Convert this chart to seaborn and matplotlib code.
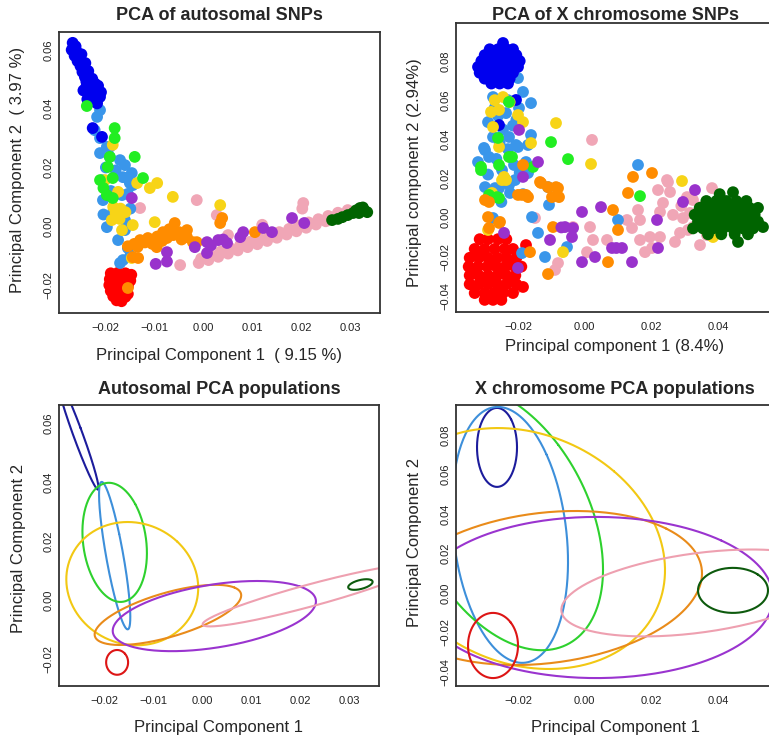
import numpy as np
import pandas as pd
import matplotlib
matplotlib.use("Agg")
import matplotlib.pyplot as plt
import seaborn as sns

# colours of the nine populations (points) and of their ellipses
point_colours = {"pink": "#f0a6b6", "red": "#ff0000", "lightblue": "#3a96ea", "blue": "#0000ee",
                 "gold": "#f7d417", "green": "#22ee22", "orange": "#ff8c00", "purple": "#9932cc",
                 "darkgreen": "#006400"}
ellipse_colours = {"pink": "#eea0b0", "red": "#dd1515", "lightblue": "#3d8fda", "blue": "#1c1c9c",
                   "gold": "#f2c813", "green": "#2ed12e", "orange": "#e98b1a", "purple": "#9a34cf",
                   "darkgreen": "#0d5a0d"}
draw_order = ["pink", "red", "lightblue", "blue", "gold", "green", "orange", "purple", "darkgreen"]

# ---- autosomal PCA, points (PC1, PC2)
auto_pink = [(-0.0010, -0.0125), (-0.0005, -0.0110), (0.0010, -0.0115), (0.0015, -0.0098), (0.0030, -0.0104),
             (0.0035, -0.0086), (0.0050, -0.0093), (0.0055, -0.0075), (0.0070, -0.0082), (0.0075, -0.0064),
             (0.0090, -0.0071), (0.0095, -0.0053), (0.0110, -0.0061), (0.0115, -0.0042), (0.0130, -0.0050),
             (0.0135, -0.0031), (0.0150, -0.0039), (0.0155, -0.0020), (0.0170, -0.0028), (0.0175, -0.0009),
             (0.0190, -0.0017), (0.0195, 0.0002), (0.0210, -0.0005), (0.0215, 0.0013), (0.0230, 0.0006),
             (0.0235, 0.0024), (0.0250, 0.0017), (0.0255, 0.0035), (0.0270, 0.0030), (0.0275, 0.0046),
             (0.0290, 0.0042), (0.0295, 0.0055), (-0.0130, 0.0062), (-0.0014, 0.0089), (-0.0048, -0.0132),
             (0.0027, 0.0038), (0.0204, 0.0079), (0.0202, 0.0060), (0.0120, 0.0005), (0.0050, -0.0030)]
auto_red = [(-0.0190, -0.0160), (-0.0175, -0.0158), (-0.0160, -0.0160), (-0.0148, -0.0165), (-0.0192, -0.0180),
            (-0.0178, -0.0178), (-0.0163, -0.0180), (-0.0150, -0.0185), (-0.0193, -0.0200), (-0.0180, -0.0198),
            (-0.0166, -0.0200), (-0.0155, -0.0205), (-0.0190, -0.0220), (-0.0177, -0.0220), (-0.0163, -0.0222),
            (-0.0155, -0.0230), (-0.0185, -0.0238), (-0.0172, -0.0240), (-0.0160, -0.0240), (-0.0178, -0.0252),
            (-0.0168, -0.0255)]
auto_lightblue = [(-0.0218, 0.0372), (-0.0212, 0.0395), (-0.0223, 0.0327), (-0.0212, 0.0300), (-0.0198, 0.0270),
                  (-0.0192, 0.0236), (-0.0212, 0.0249), (-0.0192, 0.0270), (-0.0171, 0.0225), (-0.0161, 0.0208),
                  (-0.0147, 0.0181), (-0.0145, 0.0140), (-0.0208, 0.0157), (-0.0165, 0.0167), (-0.0151, 0.0147),
                  (-0.0180, 0.0190), (-0.0200, 0.0200), (-0.0167, 0.0106), (-0.0206, 0.0089), (-0.0190, 0.0120),
                  (-0.0155, 0.0110), (-0.0198, -0.0003), (-0.0161, 0.0021), (-0.0161, -0.0013), (-0.0175, -0.0047),
                  (-0.0155, -0.0074), (-0.0165, -0.0115), (-0.0150, -0.0100), (-0.0185, 0.0050), (-0.0150, 0.0060),
                  (-0.0205, 0.0040), (-0.0171, -0.0125)]
auto_blue = [(-0.0268, 0.0624), (-0.0262, 0.0612), (-0.0270, 0.0600), (-0.0260, 0.0595), (-0.0264, 0.0580),
             (-0.0255, 0.0578), (-0.0258, 0.0562), (-0.0250, 0.0560), (-0.0252, 0.0545), (-0.0245, 0.0540),
             (-0.0248, 0.0525), (-0.0240, 0.0522), (-0.0243, 0.0508), (-0.0235, 0.0505), (-0.0240, 0.0492),
             (-0.0230, 0.0490), (-0.0222, 0.0485), (-0.0240, 0.0475), (-0.0230, 0.0470), (-0.0222, 0.0468),
             (-0.0232, 0.0458), (-0.0220, 0.0455), (-0.0230, 0.0445), (-0.0222, 0.0440), (-0.0212, 0.0440),
             (-0.0225, 0.0425), (-0.0218, 0.0418), (-0.0227, 0.0334), (-0.0208, 0.0304), (-0.0250, 0.0585),
             (-0.0242, 0.0555), (-0.0236, 0.0528), (-0.0228, 0.0502), (-0.0216, 0.0478), (-0.0210, 0.0456),
             (-0.0246, 0.0462), (-0.0238, 0.0432)]
auto_gold = [(-0.0186, 0.0277), (-0.0202, 0.0157), (-0.0136, 0.0147), (-0.0110, 0.0130), (-0.0095, 0.0147),
             (-0.0063, 0.0100), (0.0034, 0.0072), (-0.0175, 0.0117), (-0.0185, 0.0066), (-0.0170, 0.0060),
             (-0.0160, 0.0048), (-0.0180, 0.0045), (-0.0188, 0.0021), (-0.0172, 0.0025), (-0.0167, -0.0013),
             (-0.0145, 0.0004), (-0.0100, 0.0014), (-0.0147, -0.0108)]
auto_green = [(-0.0239, 0.0409), (-0.0182, 0.0334), (-0.0182, 0.0300), (-0.0141, 0.0236), (-0.0124, 0.0164),
              (-0.0192, 0.0236), (-0.0196, 0.0202), (-0.0212, 0.0157), (-0.0186, 0.0164), (-0.0198, 0.0106),
              (-0.0186, 0.0096), (-0.0205, 0.0130)]
auto_orange = [(-0.0155, -0.0068), (-0.0142, -0.0060), (-0.0130, -0.0047), (-0.0135, -0.0070), (-0.0120, -0.0055),
               (-0.0114, -0.0040), (-0.0105, -0.0060), (-0.0096, -0.0071), (-0.0095, -0.0035), (-0.0085, -0.0050),
               (-0.0083, -0.0020), (-0.0075, -0.0040), (-0.0070, -0.0010), (-0.0062, -0.0030), (-0.0059, 0.0011),
               (-0.0050, -0.0020), (-0.0045, -0.0045), (-0.0034, -0.0037), (-0.0034, -0.0013), (-0.0022, -0.0054),
               (-0.0014, -0.0054), (0.0034, 0.0011), (0.0038, 0.0028), (0.0105, -0.0020), (-0.0134, -0.0108),
               (-0.0145, -0.0105), (-0.0155, -0.0210)]
auto_purple = [(-0.0075, -0.0088), (-0.0075, -0.0120), (-0.0098, -0.0128), (-0.0147, 0.0096), (-0.0018, -0.0071),
               (0.0007, -0.0054), (0.0007, -0.0091), (0.0030, -0.0047), (0.0048, -0.0057), (0.0075, -0.0037),
               (0.0081, -0.0020), (0.0122, -0.0006), (0.0140, -0.0020), (0.0181, 0.0028), (0.0206, 0.0011),
               (0.0015, -0.0065), (0.0040, -0.0045)]
auto_darkgreen = [(0.0263, 0.0021), (0.0275, 0.0025), (0.0284, 0.0031), (0.0295, 0.0038), (0.0306, 0.0045),
                  (0.0312, 0.0054), (0.0320, 0.0062), (0.0328, 0.0056), (0.0335, 0.0048), (0.0318, 0.0045),
                  (0.0326, 0.0064)]

# ---- X chromosome PCA points
x_pink = [(0.0022, 0.0397), (0.0247, 0.0192), (0.0256, 0.0131), (0.0160, 0.0039), (0.0235, 0.0075),
          (0.0226, 0.0029), (0.0166, -0.0012), (0.0265, 0.0014), (0.0295, -0.0002), (0.0286, -0.0078),
          (0.0226, -0.0099), (0.0142, -0.0053), (0.0196, -0.0099), (0.0166, -0.0114), (0.0202, -0.0155),
          (0.0181, -0.0176), (0.0271, -0.0124), (0.0016, -0.0048), (0.0025, -0.0114), (0.0007, -0.0176),
          (-0.0035, -0.0048), (0.0346, -0.0140), (0.0325, -0.0048), (0.0316, 0.0024), (0.0382, 0.0151),
          (0.0325, 0.0090), (0.0346, 0.0054), (0.0367, -0.0089), (-0.0149, -0.0002), (-0.0080, -0.0232),
          (-0.0089, -0.0267), (0.0220, 0.0141), (0.0250, 0.0182), (0.0310, -0.0063), (-0.0206, -0.0360),
          (0.0067, -0.0114), (0.0127, -0.0012), (0.0307, 0.0105), (0.0385, -0.0048), (0.0290, 0.0060)]
x_red = [(-0.0315, -0.0110), (-0.0290, -0.0110), (-0.0260, -0.0110), (-0.0235, -0.0110),
         (-0.0330, -0.0160), (-0.0300, -0.0160), (-0.0270, -0.0160), (-0.0240, -0.0160), (-0.0215, -0.0160),
         (-0.0345, -0.0205), (-0.0318, -0.0205), (-0.0290, -0.0205), (-0.0262, -0.0205), (-0.0235, -0.0205),
         (-0.0205, -0.0205), (-0.0348, -0.0250), (-0.0320, -0.0250), (-0.0292, -0.0250), (-0.0265, -0.0250),
         (-0.0238, -0.0250), (-0.0210, -0.0250), (-0.0190, -0.0250), (-0.0345, -0.0295), (-0.0318, -0.0295),
         (-0.0290, -0.0295), (-0.0262, -0.0295), (-0.0235, -0.0295), (-0.0208, -0.0295), (-0.0345, -0.0340),
         (-0.0318, -0.0340), (-0.0290, -0.0340), (-0.0262, -0.0340), (-0.0235, -0.0340), (-0.0205, -0.0340),
         (-0.0330, -0.0385), (-0.0300, -0.0385), (-0.0272, -0.0385), (-0.0245, -0.0385), (-0.0215, -0.0385),
         (-0.0300, -0.0420), (-0.0275, -0.0420), (-0.0250, -0.0420), (-0.0176, -0.0140), (-0.0185, -0.0354),
         (-0.0304, -0.0182), (-0.0276, -0.0228), (-0.0250, -0.0272), (-0.0304, -0.0318), (-0.0250, -0.0362),
         (-0.0332, -0.0272), (-0.0222, -0.0228), (-0.0276, -0.0318), (-0.0222, -0.0318)]
x_lightblue = [(-0.0200, 0.0713), (-0.0185, 0.0642), (-0.0161, 0.0585), (-0.0275, 0.0616), (-0.0290, 0.0488),
               (-0.0236, 0.0534), (-0.0197, 0.0560), (-0.0275, 0.0412), (-0.0227, 0.0412), (-0.0161, 0.0422),
               (-0.0302, 0.0356), (-0.0206, 0.0371), (-0.0170, 0.0371), (-0.0320, 0.0284), (-0.0287, 0.0310),
               (-0.0212, 0.0269), (-0.0176, 0.0284), (-0.0299, 0.0345), (-0.0200, 0.0361), (-0.0224, 0.0310),
               (-0.0248, 0.0243), (-0.0269, 0.0151), (-0.0224, 0.0126), (-0.0299, 0.0156), (-0.0170, 0.0228),
               (-0.0209, 0.0192), (-0.0158, 0.0003), (-0.0140, -0.0078), (-0.0053, -0.0150), (-0.0119, -0.0201),
               (-0.0188, -0.0181), (-0.0110, 0.0156), (0.0100, -0.0012), (0.0160, 0.0269), (-0.0257, 0.0151),
               (-0.0227, 0.0167), (-0.0107, 0.0065), (-0.0275, -0.0002), (-0.0260, 0.0520), (-0.0245, 0.0450),
               (-0.0255, 0.0380), (-0.0230, 0.0350), (-0.0265, 0.0300), (-0.0195, 0.0230), (-0.0240, 0.0200),
               (-0.0185, 0.0120), (-0.0250, 0.0080), (-0.0290, 0.0220), (-0.0215, 0.0470), (-0.0270, 0.0560),
               (-0.0230, 0.0600), (-0.0205, 0.0500)]
x_blue = [(-0.0245, 0.0892), (-0.0285, 0.0860), (-0.0260, 0.0860), (-0.0235, 0.0860), (-0.0215, 0.0860),
          (-0.0300, 0.0830), (-0.0275, 0.0830), (-0.0250, 0.0830), (-0.0225, 0.0830), (-0.0205, 0.0830),
          (-0.0310, 0.0800), (-0.0285, 0.0800), (-0.0260, 0.0800), (-0.0235, 0.0800), (-0.0210, 0.0800),
          (-0.0195, 0.0800), (-0.0320, 0.0770), (-0.0295, 0.0770), (-0.0270, 0.0770), (-0.0245, 0.0770),
          (-0.0220, 0.0770), (-0.0200, 0.0770), (-0.0315, 0.0740), (-0.0290, 0.0740), (-0.0265, 0.0740),
          (-0.0240, 0.0740), (-0.0215, 0.0740), (-0.0300, 0.0710), (-0.0275, 0.0710), (-0.0250, 0.0710),
          (-0.0225, 0.0710), (-0.0280, 0.0685), (-0.0255, 0.0685), (-0.0230, 0.0685), (-0.0206, 0.0601),
          (-0.0257, 0.0473)]
x_gold = [(-0.0245, 0.0616), (-0.0281, 0.0540), (-0.0257, 0.0550), (-0.0200, 0.0524), (-0.0185, 0.0488),
          (-0.0086, 0.0483), (-0.0275, 0.0463), (-0.0257, 0.0361), (-0.0161, 0.0381), (-0.0242, 0.0208),
          (0.0019, 0.0274), (0.0292, 0.0187), (-0.0278, 0.0126), (-0.0248, 0.0192), (0.0385, -0.0099),
          (-0.0290, -0.0063), (-0.0236, 0.0192), (-0.0065, -0.0176), (-0.0270, 0.0600), (-0.0225, 0.0590)]
x_green = [(-0.0227, 0.0591), (-0.0260, 0.0407), (-0.0101, 0.0386), (-0.0227, 0.0310), (-0.0257, 0.0269),
           (-0.0311, 0.0259), (-0.0155, 0.0259), (-0.0050, 0.0299), (0.0166, 0.0110), (-0.0263, 0.0105),
           (-0.0218, 0.0310), (-0.0287, 0.0116), (-0.0257, 0.0100), (-0.0311, 0.0243)]
x_orange = [(-0.0185, 0.0269), (-0.0134, 0.0182), (-0.0110, 0.0156), (-0.0080, 0.0151), (-0.0098, 0.0105),
            (-0.0188, 0.0116), (-0.0170, 0.0105), (-0.0299, 0.0090), (-0.0254, -0.0022), (-0.0095, -0.0048),
            (0.0085, 0.0039), (0.0100, -0.0063), (0.0130, 0.0126), (0.0145, 0.0208), (0.0202, 0.0228),
            (0.0070, -0.0227), (-0.0110, -0.0288), (-0.0164, -0.0176), (-0.0290, 0.0003), (-0.0257, -0.0027),
            (-0.0287, -0.0053), (-0.0131, 0.0177), (-0.0086, 0.0156), (-0.0077, 0.0105), (-0.0200, 0.0116),
            (-0.0176, 0.0116), (-0.0287, 0.0080), (0.0362, -0.0022)]
x_purple = [(-0.0197, 0.0448), (-0.0140, 0.0284), (-0.0185, 0.0208), (-0.0008, 0.0029), (0.0049, 0.0054),
            (-0.0059, -0.0048), (-0.0035, -0.0053), (-0.0104, -0.0114), (-0.0038, -0.0099), (-0.0008, -0.0227),
            (0.0031, -0.0201), (0.0082, -0.0155), (0.0112, -0.0155), (0.0142, -0.0227), (0.0220, -0.0155),
            (0.0217, -0.0012), (0.0295, 0.0080), (0.0331, 0.0141), (-0.0242, -0.0078), (-0.0200, -0.0257),
            (-0.0070, -0.0050), (0.0095, -0.0155)]
x_darkgreen = [(0.0405, 0.0120), (0.0445, 0.0130), (0.0365, 0.0085), (0.0395, 0.0085), (0.0425, 0.0085),
               (0.0455, 0.0085), (0.0485, 0.0085), (0.0345, 0.0050), (0.0375, 0.0050), (0.0405, 0.0050),
               (0.0435, 0.0050), (0.0465, 0.0050), (0.0495, 0.0050), (0.0520, 0.0050), (0.0330, 0.0015),
               (0.0360, 0.0015), (0.0390, 0.0015), (0.0420, 0.0015), (0.0450, 0.0015), (0.0480, 0.0015),
               (0.0510, 0.0015), (0.0340, -0.0020), (0.0370, -0.0020), (0.0400, -0.0020), (0.0430, -0.0020),
               (0.0460, -0.0020), (0.0490, -0.0020), (0.0520, -0.0020), (0.0325, -0.0055), (0.0355, -0.0055),
               (0.0385, -0.0055), (0.0415, -0.0055), (0.0445, -0.0055), (0.0475, -0.0055), (0.0505, -0.0055),
               (0.0535, -0.0048), (0.0370, -0.0085), (0.0410, -0.0085), (0.0450, -0.0085), (0.0490, -0.0085),
               (0.0460, -0.0124)]

# ---- population ellipses: centre x, centre y, half-width x, half-height y, correlation
auto_ellipses = {"blue": (-0.0255, 0.0560, 0.0042, 0.0186, -0.97),
                 "lightblue": (-0.0180, 0.0150, 0.0032, 0.0250, -0.83),
                 "green": (-0.0180, 0.0195, 0.0066, 0.0202, -0.18),
                 "gold": (-0.0144, 0.0055, 0.0135, 0.0209, -0.07),
                 "orange": (-0.0071, -0.0051, 0.0150, 0.0102, 0.65),
                 "purple": (0.0024, -0.0055, 0.0208, 0.0119, 0.42),
                 "pink": (0.0220, 0.0015, 0.0220, 0.0105, 0.93),
                 "darkgreen": (0.0323, 0.0052, 0.0025, 0.0018, 0.5),
                 "red": (-0.0175, -0.0212, 0.00225, 0.0042, 0.0)}
x_ellipses = {"blue": (-0.0263, 0.0737, 0.0060, 0.0200, 0.0),
              "lightblue": (-0.0224, 0.0294, 0.0174, 0.0648, -0.21),
              "green": (-0.0245, 0.0380, 0.0300, 0.0670, -0.39),
              "gold": (-0.0184, 0.0225, 0.0425, 0.0610, -0.18),
              "orange": (-0.0118, 0.0025, 0.0470, 0.0390, 0.19),
              "purple": (0.0035, -0.0023, 0.0530, 0.0408, 0.0),
              "pink": (0.0340, 0.0000, 0.0410, 0.0220, 0.39),
              "darkgreen": (0.0445, 0.0013, 0.0105, 0.0114, 0.0),
              "red": (-0.0275, -0.0266, 0.0075, 0.0165, 0.0)}

auto_xticks = [-0.02, -0.01, 0.00, 0.01, 0.02, 0.03]
auto_yticks = [-0.02, 0.00, 0.02, 0.04, 0.06]
x_xticks = [-0.02, 0.00, 0.02, 0.04]
x_yticks = [-0.04, -0.02, 0.00, 0.02, 0.04, 0.06, 0.08]


def points_frame(groups):
    rows = []
    for name in draw_order:
        for px, py in groups[name]:
            rows.append((name, px, py))
    return pd.DataFrame(rows, columns=["pop", "pc1", "pc2"])


def ellipse_xy(cx, cy, sx, sy, rho, n=300):
    t = np.linspace(0, 2 * np.pi, n)
    d = np.arccos(rho)
    return cx + sx * np.cos(t + d / 2), cy + sy * np.cos(t - d / 2)


def style_axes(ax, xlim, ylim, xticks, yticks, xlabel, ylabel, xlab_y, ylab_x, ylab_y):
    ax.set_xlim(*xlim)
    ax.set_ylim(*ylim)
    ax.set_xticks(xticks)
    ax.set_xticklabels([f"{v:.2f}".replace("-", "\u2212") for v in xticks])
    ax.set_yticks(yticks)
    ax.set_yticklabels([f"{v:.2f}".replace("-", "\u2212") for v in yticks], rotation=90, va="center")
    ax.tick_params(direction="out", length=4, width=1, labelsize=8, colors="#222222")
    ax.tick_params(axis="x", pad=3)
    ax.tick_params(axis="y", length=3, pad=1)
    for sp in ax.spines.values():
        sp.set_visible(True)
        sp.set_color("#333333")
        sp.set_linewidth(1.3)
    ax.set_xlabel(xlabel, fontsize=12, va="center")
    ax.set_ylabel(ylabel, fontsize=12, va="center")
    ax.xaxis.set_label_coords(0.5, xlab_y)
    ax.yaxis.set_label_coords(ylab_x, ylab_y)


sns.set_theme(style="white")
plt.rcParams["font.family"] = ["Liberation Sans", "DejaVu Sans"]

fig = plt.figure(figsize=(7.69, 7.38), dpi=100)
ax1 = fig.add_axes([0.0767, 0.5759, 0.4174, 0.3808])
ax2 = fig.add_axes([0.5930, 0.5772, 0.4135, 0.3916])
ax3 = fig.add_axes([0.0767, 0.0705, 0.4161, 0.3808])
ax4 = fig.add_axes([0.5930, 0.0705, 0.4135, 0.3808])

auto_pts = points_frame({"pink": auto_pink, "red": auto_red, "lightblue": auto_lightblue, "blue": auto_blue,
                         "gold": auto_gold, "green": auto_green, "orange": auto_orange,
                         "purple": auto_purple, "darkgreen": auto_darkgreen})
x_pts = points_frame({"pink": x_pink, "red": x_red, "lightblue": x_lightblue, "blue": x_blue,
                      "gold": x_gold, "green": x_green, "orange": x_orange,
                      "purple": x_purple, "darkgreen": x_darkgreen})

sns.scatterplot(data=auto_pts, x="pc1", y="pc2", hue="pop", palette=point_colours, s=72,
                linewidth=0, alpha=1, legend=False, ax=ax1)
sns.scatterplot(data=x_pts, x="pc1", y="pc2", hue="pop", palette=point_colours, s=72,
                linewidth=0, alpha=1, legend=False, ax=ax2)

for name in ["blue", "lightblue", "green", "gold", "orange", "purple", "pink", "darkgreen", "red"]:
    ex, ey = ellipse_xy(*auto_ellipses[name])
    ax3.plot(ex, ey, color=ellipse_colours[name], lw=1.5)
    ex, ey = ellipse_xy(*x_ellipses[name])
    ax4.plot(ex, ey, color=ellipse_colours[name], lw=1.5)

style_axes(ax1, (-0.0296, 0.0361), (-0.0295, 0.0661), auto_xticks, auto_yticks,
           "Principal Component 1  ( 9.15 %)", "Principal Component 2  ( 3.97 %)", -0.15, -0.128, 0.509)
style_axes(ax2, (-0.0386, 0.0568), (-0.0482, 0.0994), x_xticks, x_yticks,
           "Principal component 1 (8.4%)", "Principal component 2 (2.94%)", -0.121, -0.129, 0.484)
style_axes(ax3, (-0.0294, 0.0361), (-0.0292, 0.0661), auto_xticks, auto_yticks,
           "Principal Component 1", "Principal Component 2", -0.149, -0.128, 0.491)
style_axes(ax4, (-0.0386, 0.0568), (-0.0471, 0.0952), x_xticks, x_yticks,
           "Principal Component 1", "Principal Component 2", -0.149, -0.129, 0.509)

title_kw = dict(ha="center", va="center", fontsize=13, fontweight="bold")
fig.text(219 / 769, 1 - 15 / 738, "PCA of autosomal SNPs", **title_kw)
fig.text(615 / 769, 1 - 15 / 738, "PCA of X chromosome SNPs", **title_kw)
fig.text(219 / 769, 1 - 390 / 738, "Autosomal PCA populations", **title_kw)
fig.text(615 / 769, 1 - 390 / 738, "X chromosome PCA populations", **title_kw)

fig.savefig("out.png", dpi=100)
